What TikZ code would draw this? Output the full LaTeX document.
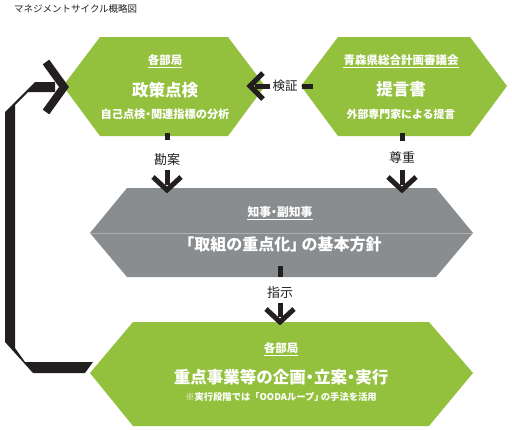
\documentclass[tikz,border=0pt]{standalone}
\usepackage{fontspec}
\setmainfont{Noto Sans CJK JP}
\newfontfamily\jpp{Noto Sans CJK JP}[RawFeature=+palt]
\newcommand{\nkg}{{\jpp ・}}
\newcommand{\kkend}{{\jpp 」}\kern0.2em}
\usetikzlibrary{calc}
\definecolor{leaf}{HTML}{93C13E}
\definecolor{slate}{HTML}{8A8D8F}
\definecolor{ink}{HTML}{231F20}
\begin{document}
\begin{tikzpicture}[x=1pt,y=-1pt,
  wt/.style={text=white,inner sep=0pt},
  lab/.style={text=ink,inner sep=0pt,font=\fontsize{13}{14}\selectfont},
  barline/.style={draw=ink,line width=5pt},
  chevline/.style={draw=ink,line width=5pt,line join=miter,miter limit=10},
  uline/.style={draw=white,line width=0.8pt}]
\useasboundingbox (0,0) rectangle (512,429);
% title
\node[anchor=west,inner sep=0pt,text=ink,font=\fontsize{9.5}{10}\selectfont] (title) at (14,9) {マネジメントサイクル概略図};
% shapes
\fill[leaf] (63,86) -- (100,37) -- (228,37) -- (265,86) -- (228,136) -- (100,136) -- cycle;
\fill[leaf] (301,86) -- (338,37) -- (470,37) -- (507,86) -- (470,136) -- (338,136) -- cycle;
\fill[slate] (90,233) -- (127,188) -- (436,188) -- (473,233) -- (436,277) -- (127,277) -- cycle;
\draw[white!30!slate,line width=0.5pt] (90,233) -- (473,233);
\fill[leaf] (90,373) -- (133,322) -- (429,322) -- (473,373) -- (429,426) -- (133,426) -- cycle;
% top-left texts
\node[wt,font=\bfseries\fontsize{11.5}{12}\selectfont] (d1) at (165,60) {各部局};
\draw[uline] ($(d1.south west)+(0,1.2)$) -- ($(d1.south east)+(0,1.2)$);
\node[wt,font=\bfseries\fontsize{16.5}{17}\selectfont] (d1m) at (165,90) {政策点検};
\node[wt,font=\bfseries\fontsize{11.2}{12}\selectfont] (d1s) at (165,114) {自己点検\nkg 関連指標の分析};
% top-right texts
\node[wt,font=\bfseries\fontsize{11.5}{12}\selectfont] (d2) at (401,60) {青森県総合計画審議会};
\draw[uline] ($(d2.south west)+(0,1.2)$) -- ($(d2.south east)+(0,1.2)$);
\node[wt,font=\bfseries\fontsize{16.5}{17}\selectfont] (d2m) at (401,89) {提言書};
\node[wt,font=\bfseries\fontsize{10.9}{12}\selectfont] (d2s) at (401,114) {外部専門家による提言};
% gray texts
\node[wt,font=\bfseries\fontsize{11.8}{12}\selectfont] (g1) at (280,212) {知事\nkg 副知事};
\draw[uline] ($(g1.south west)+(0,1.2)$) -- ($(g1.south east)+(0,1.2)$);
\node[wt,font=\bfseries\fontsize{16}{17}\selectfont] (g1m) at (280,244) {「取組の重点化\kkend の基本方針};
% bottom texts
\node[wt,font=\bfseries\fontsize{11.5}{12}\selectfont] (b1) at (281,348) {各部局};
\draw[uline] ($(b1.south west)+(0,1.2)$) -- ($(b1.south east)+(0,1.2)$);
\node[wt,font=\bfseries\fontsize{16.5}{17}\selectfont] (b1m) at (281,377) {重点事業等の企画\nkg 立案\nkg 実行};
\node[wt,font=\bfseries\fontsize{9.3}{10}\selectfont] (b1s) at (281,397) {※実行段階では「OODAループ\kkend の手法を活用};
% arrow 勘案
\coordinate (k0) at (167,133); \coordinate (k1) at (167,140);
\node[lab] (kan) at (167,160) {勘案};
\coordinate (k2) at (167,170); \coordinate (k3) at (167,185);
\draw[barline] (k0) -- (k1);
\draw[barline] (k2) -- (k3);
\draw[chevline] (153,177) -- (167,190) -- (181,177);
% arrow 尊重
\coordinate (s0) at (402,133); \coordinate (s1) at (402,141);
\node[lab] (son) at (402,158) {尊重};
\coordinate (s2) at (402,170); \coordinate (s3) at (402,185);
\draw[barline] (s0) -- (s1);
\draw[barline] (s2) -- (s3);
\draw[chevline] (388,177) -- (402,190) -- (416,177);
% arrow 指示
\coordinate (i0) at (280,266); \coordinate (i1) at (280,277);
\node[lab] (shi) at (280,293) {指示};
\coordinate (i2) at (280,303); \coordinate (i3) at (280,317);
\draw[barline] (i0) -- (i1);
\draw[barline] (i2) -- (i3);
\draw[chevline] (266,309) -- (280,322) -- (294,309);
% arrow 検証
\node[lab,font=\fontsize{12.5}{13}\selectfont] (ken) at (285,86) {検証};
\coordinate (v0) at (313,86); \coordinate (v1) at (302,86);
\coordinate (v2) at (270,86); \coordinate (v3) at (255,86);
\draw[barline] (v0) -- (v1);
\draw[barline] (v2) -- (v3);
\draw[chevline] (263,73) -- (250,86) -- (263,99);
% loop arrow
\fill[ink] (85,373) -- (33,373) -- (5,342) -- (5,112) -- (35,82) -- (55,82) -- (55,92) -- (28,92) -- (15,105) -- (15,348) -- (25,362) -- (93,362) -- cycle;
\draw[ink,line width=8pt,line join=miter,miter limit=10] (46,62) -- (64,87) -- (46,112);
\end{tikzpicture}
\end{document}
